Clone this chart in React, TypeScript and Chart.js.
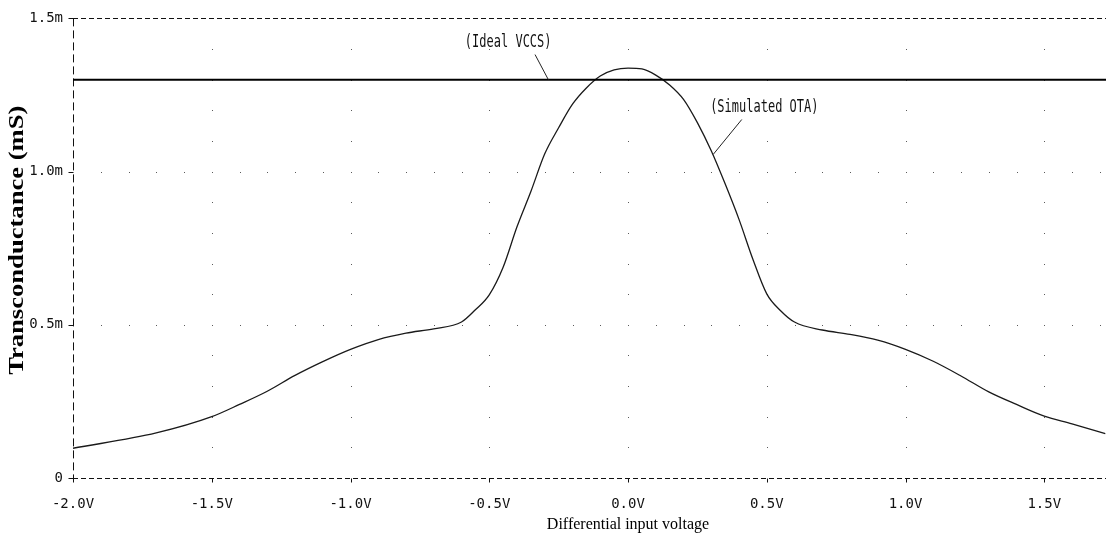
import React, { useEffect, useRef } from "react";
import { Chart, registerables } from "chart.js";

Chart.register(...registerables);

// ---- Data ----
const voltageV = [
  -2.0, -1.7, -1.5, -1.4, -1.3, -1.2, -1.1, -1.0, -0.9, -0.8,
  -0.7, -0.6, -0.55, -0.5, -0.45, -0.4, -0.35, -0.3, -0.25, -0.2,
  -0.15, -0.1, -0.05, 0, 0.05, 0.1, 0.15, 0.2, 0.25, 0.3,
  0.35, 0.4, 0.45, 0.5, 0.55, 0.6, 0.7, 0.8, 0.9, 1.0,
  1.1, 1.2, 1.3, 1.4, 1.5, 1.6, 1.72,
];
const otaGm = [
  0.097, 0.147, 0.2, 0.24, 0.283, 0.335, 0.38, 0.42, 0.452, 0.473,
  0.487, 0.509, 0.549, 0.598, 0.688, 0.82, 0.935, 1.058, 1.143, 1.22,
  1.273, 1.312, 1.332, 1.338, 1.335, 1.315, 1.283, 1.236, 1.16, 1.068,
  0.96, 0.844, 0.714, 0.601, 0.546, 0.509, 0.483, 0.469, 0.45, 0.42,
  0.381, 0.333, 0.281, 0.24, 0.202, 0.177, 0.145,
];
const idealV = [-2.0, 2.0];
const idealGm = [1.3, 1.3];

const xTickValues = [-2.0, -1.5, -1.0, -0.5, 0.0, 0.5, 1.0, 1.5, 2.0];
const xTickLabels = ["-2.0V", "-1.5V", "-1.0V", "-0.5V", "0.0V", "0.5V", "1.0V", "1.5V", "2.0V"];
const yTickValues = [0, 0.5, 1.0, 1.5];
const yTickLabels = ["0", "0.5m", "1.0m", "1.5m"];

const xTitle = "Differential input voltage";
const yTitle = "Transconductance (mS)";

const annotationTexts = ["(Ideal VCCS)", "(Simulated OTA)"];
const annotationAnchors = [
  [-0.588, 1.423],
  [0.296, 1.208],
];
const annotationLeaders = [
  [[-0.335, 1.382], [-0.287, 1.3]],
  [[0.41, 1.17], [0.307, 1.056]],
];

const labelFor = (vals: number[], labels: string[], v: number) => {
  const i = vals.findIndex((t) => Math.abs(t - v) < 1e-6);
  return i >= 0 ? labels[i] : "";
};

const decorations = {
  id: "decorations",
  beforeDatasetsDraw(chart: any) {
    const { ctx, chartArea: ca, scales } = chart;
    const xs = scales.x;
    const ys = scales.y;
    ctx.save();
    // dotted grid
    ctx.fillStyle = "#5a5a5a";
    for (let i = -3; i <= 4; i++) {
      const px = Math.round(xs.getPixelForValue(i * 0.5));
      for (let j = 1; j < 15; j++) {
        const py = Math.round(ys.getPixelForValue(j / 10));
        ctx.fillRect(px, py, 1, 1);
      }
    }
    for (const g of [0.5, 1.0]) {
      const py = Math.round(ys.getPixelForValue(g));
      for (let k = -19; k <= 19; k++) {
        const px = Math.round(xs.getPixelForValue(k / 10));
        ctx.fillRect(px, py, 1, 1);
      }
    }
    // dashed frame
    const top = Math.round(ca.top) + 0.5;
    const bottom = Math.round(ca.bottom) + 0.5;
    const left = Math.round(ca.left) + 0.5;
    const line = (x1: number, y1: number, x2: number, y2: number) => {
      ctx.beginPath();
      ctx.moveTo(x1, y1);
      ctx.lineTo(x2, y2);
      ctx.stroke();
    };
    ctx.strokeStyle = "#111";
    ctx.lineWidth = 1;
    ctx.setLineDash([5, 3]);
    line(ca.left, top, ca.right, top);
    line(ca.left, bottom, ca.right, bottom);
    ctx.setLineDash([8, 4]);
    line(left, ca.top, left, ca.bottom);
    ctx.setLineDash([]);
    // tick marks
    for (const v of xTickValues) {
      const px = Math.round(xs.getPixelForValue(v)) + 0.5;
      line(px, bottom, px, bottom + 4);
    }
    for (const v of yTickValues) {
      const py = Math.round(ys.getPixelForValue(v)) + 0.5;
      line(left - 5, py, left, py);
    }
    ctx.restore();
  },
  afterDatasetsDraw(chart: any) {
    const { ctx, chartArea: ca, scales } = chart;
    const xs = scales.x;
    const ys = scales.y;
    ctx.save();
    // annotations
    ctx.fillStyle = "#111";
    ctx.strokeStyle = "#222";
    ctx.lineWidth = 1;
    ctx.font = "12px 'DejaVu Sans Mono', monospace";
    ctx.textAlign = "left";
    ctx.textBaseline = "middle";
    annotationTexts.forEach((t, i) => {
      const [ax, ay] = annotationAnchors[i];
      const px = xs.getPixelForValue(ax);
      const py = ys.getPixelForValue(ay);
      ctx.save();
      ctx.translate(px, py);
      ctx.scale(1, 1.45);
      ctx.fillText(t, 0, 0);
      ctx.restore();
      const [[x1, y1], [x2, y2]] = annotationLeaders[i];
      ctx.beginPath();
      ctx.moveTo(xs.getPixelForValue(x1), ys.getPixelForValue(y1));
      ctx.lineTo(xs.getPixelForValue(x2), ys.getPixelForValue(y2));
      ctx.stroke();
    });
    // y axis title
    ctx.save();
    ctx.fillStyle = "#000";
    ctx.font = "bold 20px 'Liberation Serif', serif";
    ctx.textAlign = "center";
    ctx.textBaseline = "middle";
    ctx.translate(18, (ca.top + ca.bottom) / 2 - 8);
    ctx.rotate(-Math.PI / 2);
    ctx.scale(1.33, 1);
    ctx.fillText(yTitle, 0, 0);
    ctx.restore();
    ctx.restore();
  },
};

export default function App() {
  const canvasRef = useRef<HTMLCanvasElement | null>(null);

  useEffect(() => {
    if (!canvasRef.current) return;
    const chart = new Chart(canvasRef.current, {
      type: "line",
      data: {
        datasets: [
          {
            label: "Ideal VCCS",
            data: idealV.map((v, i) => ({ x: v, y: idealGm[i] })),
            borderColor: "#000",
            borderWidth: 2,
            pointRadius: 0,
            tension: 0,
            fill: false,
          },
          {
            label: "Simulated OTA",
            data: voltageV.map((v, i) => ({ x: v, y: otaGm[i] })),
            borderColor: "#1a1a1a",
            borderWidth: 1.3,
            pointRadius: 0,
            cubicInterpolationMode: "monotone",
            fill: false,
          },
        ],
      },
      options: {
        responsive: true,
        maintainAspectRatio: false,
        animation: false,
        layout: { padding: { top: 17, right: 37, left: 0, bottom: 0 } },
        plugins: {
          legend: { display: false },
          tooltip: { enabled: false },
        },
        scales: {
          x: {
            type: "linear",
            min: -2,
            max: 2,
            afterBuildTicks: (s: any) => {
              s.ticks = xTickValues.map((v) => ({ value: v }));
            },
            afterFit: (s: any) => {
              s.height = 65;
            },
            grid: { display: false, drawTicks: false },
            border: { display: false },
            ticks: {
              font: { family: "'DejaVu Sans Mono', monospace", size: 14 },
              color: "#111",
              padding: 18,
              maxRotation: 0,
              autoSkip: false,
              callback: (v: any) => labelFor(xTickValues, xTickLabels, Number(v)),
            },
            title: {
              display: true,
              text: xTitle,
              font: { family: "'Liberation Serif', serif", size: 16 },
              color: "#000",
              padding: { top: 0, bottom: 9 },
            },
          },
          y: {
            type: "linear",
            min: 0,
            max: 1.5,
            afterBuildTicks: (s: any) => {
              s.ticks = yTickValues.map((v) => ({ value: v }));
            },
            afterFit: (s: any) => {
              s.width = 73;
            },
            grid: { display: false, drawTicks: false },
            border: { display: false },
            ticks: {
              font: { family: "'DejaVu Sans Mono', monospace", size: 14 },
              color: "#111",
              padding: 10,
              autoSkip: false,
              callback: (v: any) => labelFor(yTickValues, yTickLabels, Number(v)),
            },
          },
        },
      },
      plugins: [decorations],
    });
    return () => chart.destroy();
  }, []);

  return (
    <div
      style={{
        position: "absolute",
        left: 0,
        top: 0,
        width: 1106,
        height: 543,
        overflow: "hidden",
        background: "#fff",
      }}
    >
      <div style={{ position: "relative", width: 1220, height: 543 }}>
        <canvas ref={canvasRef} />
      </div>
    </div>
  );
}
